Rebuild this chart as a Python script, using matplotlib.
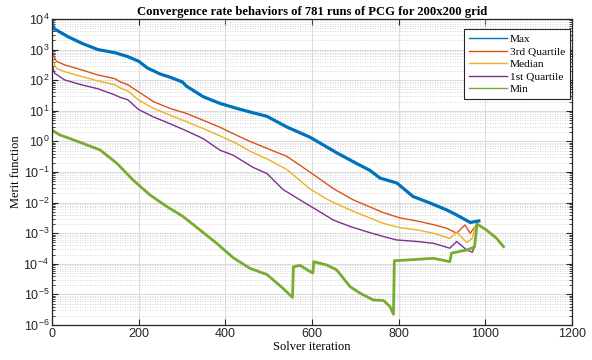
import numpy as np
import matplotlib
matplotlib.use('Agg')
import matplotlib.pyplot as plt
from matplotlib.ticker import LogLocator, NullFormatter, MultipleLocator

# Valores (expoentes log10 da funcao de merito)
max_it = [0, 3, 15, 37, 70, 106, 145, 175, 200, 220, 250, 272, 300, 311, 349, 388,
          426, 460, 496, 542, 595, 658, 700, 734, 757, 796, 833, 870, 911, 940, 965, 985]
max_log = [3.95, 3.7, 3.6, 3.42, 3.2, 3.0, 2.9, 2.77, 2.62, 2.4, 2.2, 2.1, 1.95, 1.8, 1.46, 1.24,
           1.08, 0.95, 0.82, 0.47, 0.14, -0.38, -0.7, -0.95, -1.2, -1.36, -1.8, -2.0, -2.24, -2.45, -2.65, -2.6]

q3_it = [0, 3, 10, 29, 68, 106, 145, 157, 175, 200, 234, 272, 311, 349, 388, 426, 457, 500,
         542, 595, 650, 695, 765, 803, 842, 880, 911, 934, 953, 965, 980]
q3_log = [3.0, 2.83, 2.62, 2.5, 2.34, 2.17, 2.05, 1.95, 1.85, 1.62, 1.3, 1.08, 0.91, 0.69, 0.46, 0.2, 0.0, -0.25,
          -0.49, -1.0, -1.55, -1.91, -2.33, -2.5, -2.6, -2.72, -2.84, -3.0, -2.73, -3.0, -2.72]

med_it = [0, 3, 10, 29, 68, 106, 145, 157, 175, 200, 234, 272, 311, 349, 388, 426, 457, 500,
          542, 595, 637, 688, 726, 765, 803, 842, 880, 918, 934, 957, 970, 976]
med_log = [2.8, 2.6, 2.39, 2.28, 2.12, 1.98, 1.85, 1.75, 1.65, 1.35, 1.08, 0.86, 0.64, 0.42, 0.18, -0.07, -0.32, -0.6,
           -0.92, -1.55, -1.91, -2.24, -2.46, -2.68, -2.82, -2.89, -3.0, -3.17, -2.97, -3.3, -3.17, -2.8]

q1_it = [0, 6, 29, 68, 106, 145, 157, 175, 200, 234, 272, 311, 349, 388, 418, 464, 496, 533,
         572, 611, 649, 688, 726, 765, 795, 842, 880, 918, 934, 957, 970, 976]
q1_log = [2.5, 2.23, 2.01, 1.85, 1.72, 1.52, 1.44, 1.36, 1.04, 0.8, 0.58, 0.34, 0.09, -0.29, -0.45, -0.85, -1.05, -1.57,
          -1.91, -2.24, -2.57, -2.78, -2.95, -3.11, -3.22, -3.27, -3.33, -3.49, -3.27, -3.55, -3.62, -3.4]

min_it = [0, 18, 40, 72, 111, 150, 187, 226, 265, 302, 342, 380, 418, 457, 496, 533, 555, 557,
          572, 595, 602, 604, 634, 657, 688, 711, 741, 765, 780, 788, 790, 826, 880, 918, 922,
          957, 975, 981, 1003, 1026, 1042]
min_log = [0.37, 0.21, 0.1, -0.07, -0.28, -0.72, -1.26, -1.75, -2.13, -2.45, -2.9, -3.33, -3.8, -4.15, -4.35, -4.8, -5.1, -4.1,
           -4.05, -4.25, -4.3, -3.93, -4.04, -4.2, -4.75, -4.96, -5.18, -5.2, -5.4, -5.65, -3.9, -3.87, -3.82, -3.93, -3.65,
           -3.55, -3.45, -2.7, -2.9, -3.17, -3.44]

series = [('Max', max_it, max_log, '#0072BD', 2.3),
          ('3rd Quartile', q3_it, q3_log, '#D95319', 1.0),
          ('Median', med_it, med_log, '#EDB120', 1.0),
          ('1st Quartile', q1_it, q1_log, '#7E2F8E', 1.0),
          ('Min', min_it, min_log, '#77AC30', 2.0)]

plt.rcParams['font.family'] = ['Liberation Sans', 'DejaVu Sans']
plt.rcParams['mathtext.fontset'] = 'custom'
plt.rcParams['mathtext.rm'] = 'Liberation Sans'
plt.rcParams['mathtext.it'] = 'Liberation Sans:italic'

fig = plt.figure(figsize=(5.92, 3.6), dpi=100)
ax = fig.add_axes([52 / 592, 35 / 360, 520 / 592, 306 / 360])

for name, it, lg, cor, lw in series:
  ax.plot(it, 10 ** np.array(lg), color=cor, lw=lw, label=name)

ax.set_yscale('log')
ax.set_xlim(0, 1200)
ax.set_ylim(1e-6, 1e4)
ax.xaxis.set_major_locator(MultipleLocator(200))
ax.yaxis.set_major_locator(LogLocator(base=10, numticks=20))
ax.yaxis.set_minor_locator(LogLocator(base=10, subs=np.arange(2, 10), numticks=20))
ax.yaxis.set_minor_formatter(NullFormatter())

# Estilo MATLAB
cinza = '#262626'
for s in ax.spines.values():
  s.set_color(cinza)
  s.set_linewidth(0.9)
ax.tick_params(which='both', direction='in', top=True, right=True, colors=cinza, labelsize=9)
ax.tick_params(which='major', length=4, pad=2)
ax.tick_params(which='minor', length=2)
ax.grid(True, which='major', color='#dcdcdc', lw=0.8)
ax.grid(True, which='minor', axis='y', color='#c8c8c8', lw=0.6, ls=(0, (1, 2)))
ax.set_axisbelow(True)

ax.set_title('Convergence rate behaviors of 781 runs of PCG for 200x200 grid',
             fontsize=9.1, fontweight='bold', family='Liberation Serif', pad=3)
ax.set_xlabel('Solver iteration', fontsize=9, family='Liberation Serif', labelpad=1)
ax.set_ylabel('Merit function', fontsize=9, family='Liberation Serif', labelpad=1)

leg = ax.legend(loc='upper right', bbox_to_anchor=(0.996, 0.967), borderaxespad=0,
                prop={'family': 'Liberation Serif', 'size': 8.2}, fancybox=False,
                framealpha=1, edgecolor=cinza, handlelength=3.3, handletextpad=0.25,
                labelspacing=0.22, borderpad=0.45)
leg.get_frame().set_linewidth(0.8)
for h in leg.get_lines():
  h.set_linewidth(1.0)

plt.savefig('out.png', dpi=100)
plt.close()
